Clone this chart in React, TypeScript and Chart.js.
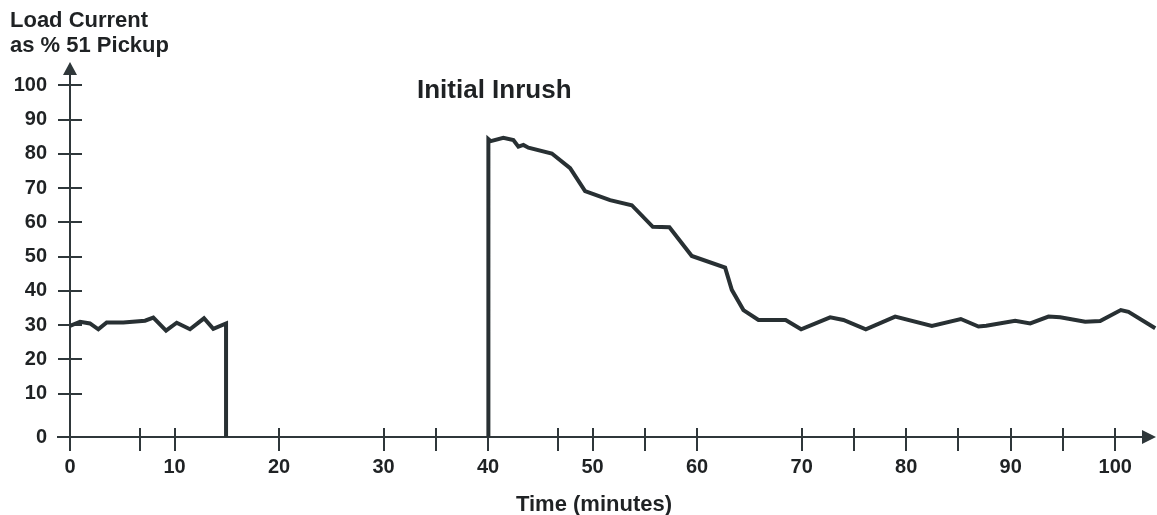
import React, { useEffect, useRef } from "react";
import { Chart, registerables, LinearScale } from "chart.js";

// ---- Data ----
const preOutageTime = [0, 0.96, 1.91, 2.71, 3.51, 5.1, 7.18, 7.97, 9.19, 10.21, 11.48, 12.82, 13.71, 14.93, 14.93];
const preOutageLoad = [29.8, 31.0, 30.5, 28.8, 30.8, 30.8, 31.3, 32.2, 28.4, 30.7, 28.8, 32.0, 28.9, 30.5, 0];

const inrushTime = [40.03, 40.03, 40.26, 41.46, 42.42, 42.9, 43.38, 43.86, 46.1, 47.85, 49.28, 51.67, 53.75, 55.76, 57.35, 59.49, 62.68, 63.32, 64.43, 65.87, 68.47, 69.95, 72.73, 74.0, 76.14, 78.95, 82.46, 85.23, 86.92, 87.66, 90.43, 91.87, 93.62, 94.74, 97.13, 98.56, 100.54, 101.27, 103.83];
const inrushLoad = [0, 84.3, 83.7, 84.7, 84.0, 82.1, 82.6, 81.8, 80.1, 75.8, 69.1, 66.5, 65.0, 58.7, 58.6, 50.2, 46.8, 40.3, 34.4, 31.5, 31.5, 28.8, 32.3, 31.5, 28.8, 32.5, 29.8, 31.8, 29.6, 29.8, 31.3, 30.5, 32.5, 32.3, 31.0, 31.2, 34.4, 33.9, 29.1];

const xLabelValues = [0, 10, 20, 30, 40, 50, 60, 70, 80, 90, 100];
const xTickMarks = [0, 6.7, 10, 20, 30, 35, 40, 46.7, 50, 55, 60, 70, 75, 80, 85, 90, 95, 100];
const yLabelValues = [0, 10, 20, 30, 40, 50, 60, 70, 80, 90, 100];

const titleText = "Initial Inrush";
const yTitleLines = ["Load Current", "as % 51 Pickup"];
const xTitleText = "Time (minutes)";

// ---- Style ----
const FONT = '"Liberation Sans", Arial, Helvetica, sans-serif';
const LINE_COLOR = "#283033";
const AXIS_COLOR = "#2f373a";
const TEXT_COLOR = "#1f2224";
const Y_GAP = 2.64; // compressed zone between 0 and 10 on the value axis

// Value axis whose 0..10 band is stretched (as in the reference)
class BrokenLinearScale extends LinearScale {
  static id = "brokenLinear";
  static defaults = LinearScale.defaults;
  mapValue(v: number) {
    return v >= 10 ? v : -Y_GAP + (v * (10 + Y_GAP)) / 10;
  }
  getPixelForValue(value: number) {
    if (value === null || value === undefined) return NaN;
    return super.getPixelForValue(this.mapValue(value));
  }
  getValueForPixel(pixel: number) {
    const v = super.getValueForPixel(pixel);
    return v >= 10 ? v : ((v + Y_GAP) * 10) / (10 + Y_GAP);
  }
}

Chart.register(...registerables, BrokenLinearScale);

const axesPlugin = {
  id: "arrowAxes",
  beforeDatasetsDraw(chart: any) {
    const { ctx } = chart;
    const x = chart.scales.x;
    const y = chart.scales.y;
    const x0 = x.getPixelForValue(0);
    const y0 = y.getPixelForValue(0);
    const xEnd = x.right - 1;
    const yTop = y.top;
    ctx.save();
    ctx.strokeStyle = AXIS_COLOR;
    ctx.fillStyle = AXIS_COLOR;
    ctx.lineWidth = 2;
    ctx.lineCap = "butt";
    ctx.beginPath();
    ctx.moveTo(x0 - 13, y0);
    ctx.lineTo(xEnd - 10, y0);
    ctx.moveTo(x0, y0 + 10);
    ctx.lineTo(x0, yTop + 10);
    for (const v of yLabelValues) {
      if (v === 0) continue;
      const p = Math.round(y.getPixelForValue(v));
      ctx.moveTo(x0 - 12, p);
      ctx.lineTo(x0 + 12, p);
    }
    for (const v of xTickMarks) {
      const p = Math.round(x.getPixelForValue(v));
      ctx.moveTo(p, y0 - 9);
      ctx.lineTo(p, y0 + 14);
    }
    ctx.stroke();
    // arrow heads
    ctx.beginPath();
    ctx.moveTo(xEnd, y0);
    ctx.lineTo(xEnd - 14, y0 - 7);
    ctx.lineTo(xEnd - 14, y0 + 7);
    ctx.closePath();
    ctx.fill();
    ctx.beginPath();
    ctx.moveTo(x0, yTop);
    ctx.lineTo(x0 - 7, yTop + 13);
    ctx.lineTo(x0 + 7, yTop + 13);
    ctx.closePath();
    ctx.fill();
    ctx.restore();
  },
  afterDraw(chart: any) {
    const { ctx } = chart;
    ctx.save();
    ctx.fillStyle = TEXT_COLOR;
    ctx.textBaseline = "alphabetic";
    ctx.textAlign = "left";
    ctx.font = `bold 26px ${FONT}`;
    ctx.fillText(titleText, 417, 98);
    ctx.font = `bold 22px ${FONT}`;
    ctx.fillText(yTitleLines[0], 10, 27);
    ctx.fillText(yTitleLines[1], 10, 52);
    ctx.textAlign = "center";
    ctx.fillText(xTitleText, 594, 511);
    ctx.restore();
  },
};

export default function App() {
  const canvasRef = useRef<HTMLCanvasElement | null>(null);

  useEffect(() => {
    const canvas = canvasRef.current;
    if (!canvas) return;
    const tickFont = { family: FONT, size: 20, weight: "bold" as const };
    const chart = new Chart(canvas, {
      type: "line",
      data: {
        datasets: [
          {
            data: preOutageTime.map((t, i) => ({ x: t, y: preOutageLoad[i] })),
            borderColor: LINE_COLOR,
            borderWidth: 4,
            pointRadius: 0,
            fill: false,
          },
          {
            data: inrushTime.map((t, i) => ({ x: t, y: inrushLoad[i] })),
            borderColor: LINE_COLOR,
            borderWidth: 4,
            pointRadius: 0,
            fill: false,
          },
        ],
      },
      options: {
        animation: false,
        responsive: false,
        layout: { padding: { top: 62, left: 0, right: 0, bottom: 0 } },
        plugins: {
          legend: { display: false },
          tooltip: { enabled: false },
          title: { display: false },
        },
        elements: {
          line: { tension: 0, borderJoinStyle: "miter", borderCapStyle: "butt" },
          point: { radius: 0 },
        },
        scales: {
          x: {
            type: "linear",
            min: 0,
            max: 104,
            grid: { display: false, drawTicks: false },
            border: { display: false },
            ticks: {
              padding: 18,
              font: tickFont,
              color: TEXT_COLOR,
              maxRotation: 0,
              autoSkip: false,
              callback: (v: any) => String(v),
            },
            afterBuildTicks: (s: any) => {
              s.ticks = xLabelValues.map((value) => ({ value }));
            },
            afterFit: (s: any) => {
              s.height = 78;
            },
          },
          y: {
            type: "brokenLinear" as any,
            min: -Y_GAP,
            max: 106.8,
            grid: { display: false, drawTicks: false },
            border: { display: false },
            ticks: {
              padding: 23,
              font: tickFont,
              color: TEXT_COLOR,
              autoSkip: false,
              callback: (v: any) => String(v),
            },
            afterBuildTicks: (s: any) => {
              s.ticks = yLabelValues.map((value) => ({ value }));
            },
            afterFit: (s: any) => {
              s.width = 70;
            },
          },
        },
      } as any,
      plugins: [axesPlugin],
    });
    return () => chart.destroy();
  }, []);

  return (
    <div style={{ position: "fixed", left: 0, top: 0, width: 1157, height: 515, background: "#fff" }}>
      <canvas ref={canvasRef} width={1157} height={515} style={{ display: "block" }} />
    </div>
  );
}
